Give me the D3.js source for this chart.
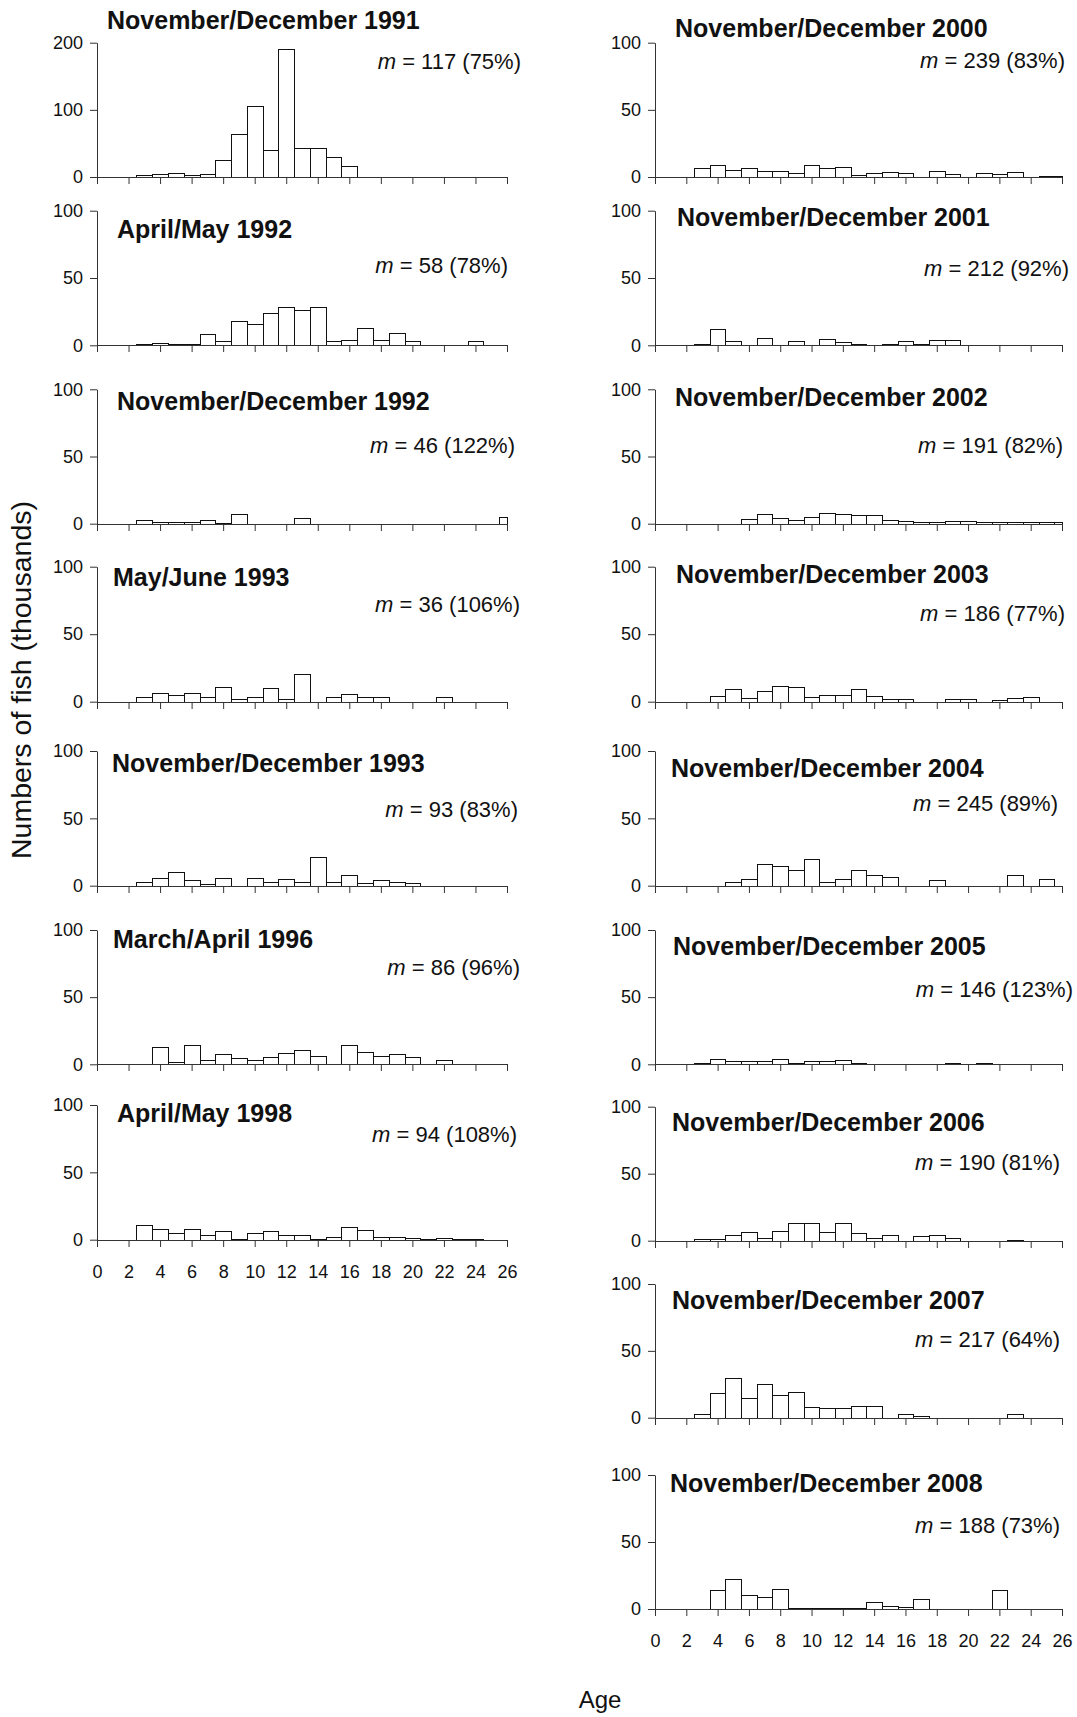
<!DOCTYPE html>
<html>
<head>
<meta charset="utf-8">
<script src="https://cdn.jsdelivr.net/npm/d3@7"></script>
<style>
  body { margin: 0; background: #fff; }
  text { font-family: "Liberation Sans", Arial, Helvetica, sans-serif; fill: #111; }
</style>
</head>
<body>
<svg id="chart" width="1077" height="1717"></svg>
<script>
// Age classes (years) and x-axis tick labels
const ages = d3.range(1, 27);
const ageTicks = d3.range(0, 27, 2);

// Survey names, sample sizes (m) and percentages
const surveyTitles = [
  "November/December 1991", "April/May 1992", "November/December 1992",
  "May/June 1993", "November/December 1993", "March/April 1996", "April/May 1998",
  "November/December 2000", "November/December 2001", "November/December 2002",
  "November/December 2003", "November/December 2004", "November/December 2005",
  "November/December 2006", "November/December 2007", "November/December 2008"
];
const sampleSizes = [117, 58, 46, 36, 93, 86, 94, 239, 212, 191, 186, 245, 146, 190, 217, 188];
const samplePercents = [75, 78, 122, 106, 83, 96, 108, 83, 92, 82, 77, 89, 123, 81, 64, 73];
const yMaxima = [200, 100, 100, 100, 100, 100, 100, 100, 100, 100, 100, 100, 100, 100, 100, 100];

// Numbers of fish (thousands) by age 1..26
const nov1991 = [0,0,3,5,6,3,5,25,63.5,105.7,40,190,42.7,42.7,30,16.4,0,0,0,0,0,0,0,0,0,0];
const apr1992 = [0,0,0.7,1.5,0.7,0.7,8.4,3,17.8,15.8,23.8,28.2,26.2,28.2,3.2,3.7,12.6,3.7,8.9,3,0,0,0,3,0,0];
const nov1992 = [0,0,2.7,1.2,1.5,1.5,2.5,0.5,7.4,0,0,0,4,0,0,0,0,0,0,0,0,0,0,0,0,4.7];
const may1993 = [0,0,3.5,6.7,5.2,6.7,3.5,10.9,1.7,3.2,10.1,1.7,20.5,0,3.2,5.9,3.2,3.2,0,0,0,3.2,0,0,0,0];
const nov1993 = [0,0,2.5,5.9,9.9,4,1.5,5.9,0,5.4,3,5.2,3,21,3,8.2,2.2,4,2.5,2.2,0,0,0,0,0,0];
const mar1996 = [0,0,0,12.7,1.7,14.1,3,7.9,4.5,3.5,5.7,8.7,10.4,6.5,0.5,14.1,9.4,6.5,7.7,5.7,0.5,3,0,0,0,0];
const apr1998 = [0,0,10.6,7.7,5.2,7.7,3.5,6.7,0.5,5,6.7,3.5,3.5,0.5,1.7,9.7,7.2,2.2,2.2,1,0.3,1,0.3,0.2,0,0];
const nov2000 = [0,0,6.9,8.9,5.2,6.7,4.7,4.7,3.2,8.7,6.9,7.7,1.5,3.2,3.7,3.2,0,4.7,2.2,0,3,2.5,4,0,0.7,0.5];
const nov2001 = [0,0,1.2,11.9,3.5,0,5.2,0,3.5,0,4.7,2.2,1,0,1.2,3,0.7,4,4,0,0.5,0,0,0.5,0,0];
const nov2002 = [0,0,0,0,0,3.2,7.2,4.2,2.5,5.2,8.2,7.2,6.2,6.2,3,2.2,1.5,1.5,2.2,2.2,1.2,1.2,1.2,1.2,1.2,1];
const nov2003 = [0,0,0,4.2,9.1,2.5,7.9,11.9,11.1,3.2,4.9,4.9,9.1,4,2.2,2.2,0,0,2.2,2.2,0,1.5,2.5,3.2,0,0];
const nov2004 = [0,0,0,0,3,5.2,15.8,14.9,11.9,20,3,5.2,11.9,8.2,6.7,0,0,4,0,0,0,0,8.2,0,5.2,0];
const nov2005 = [0,0,1.2,4.2,2.2,2.2,2.2,4.2,1.2,2.2,2.2,3.2,1.2,0,0,0,0,0,1.2,0,1.2,0,0,0,0,0];
const nov2006 = [0,0,1.2,1.2,4.5,6.7,2.2,7,13.4,13.4,6.5,12.9,5.5,1.7,4,0,3.2,4,2.2,0,0,0,0.7,0,0,0];
const nov2007 = [0,0,3,18.2,29.9,15,24.9,17,19.5,8.2,7.5,7.5,8.7,8.5,0,3,1.5,0,0,0,0,0,2.5,0,0,0];
const nov2008 = [0,0,0,14.4,22.1,10.4,9.2,14.7,1,1,1,1,0.5,5.2,2,1.7,7.2,0,0,0,0,13.9,0,0,0,0];

const surveyCounts = [nov1991, apr1992, nov1992, may1993, nov1993, mar1996, apr1998,
  nov2000, nov2001, nov2002, nov2003, nov2004, nov2005, nov2006, nov2007, nov2008];

// Panel placement: column, plot top/bottom, title origin, note anchor (right end)
const columnRanges = [[97, 507], [655, 1062]];
const panelLayout = [
  { col: 0, top: 42.7,  bottom: 177,    tx: 107, ty: 29,   nx: 521,  ny: 69 },
  { col: 0, top: 210.7, bottom: 345.3,  tx: 117, ty: 238,  nx: 508,  ny: 273 },
  { col: 0, top: 389.3, bottom: 523.7,  tx: 117, ty: 410,  nx: 515,  ny: 453 },
  { col: 0, top: 566.7, bottom: 701.7,  tx: 113, ty: 586,  nx: 520,  ny: 612 },
  { col: 0, top: 751,   bottom: 885.7,  tx: 112, ty: 772,  nx: 518,  ny: 817 },
  { col: 0, top: 930,   bottom: 1064.3, tx: 113, ty: 948,  nx: 520,  ny: 975 },
  { col: 0, top: 1105,  bottom: 1239.7, tx: 117, ty: 1122, nx: 517,  ny: 1142, labels: true },
  { col: 1, top: 42.7,  bottom: 177,    tx: 675, ty: 37,   nx: 1065, ny: 68 },
  { col: 1, top: 210.7, bottom: 345.3,  tx: 677, ty: 226,  nx: 1069, ny: 276 },
  { col: 1, top: 389.3, bottom: 523.7,  tx: 675, ty: 406,  nx: 1063, ny: 453 },
  { col: 1, top: 566.7, bottom: 701.7,  tx: 676, ty: 583,  nx: 1065, ny: 621 },
  { col: 1, top: 751,   bottom: 885.7,  tx: 671, ty: 777,  nx: 1058, ny: 811 },
  { col: 1, top: 930,   bottom: 1064.3, tx: 673, ty: 955,  nx: 1073, ny: 997 },
  { col: 1, top: 1106.7,bottom: 1240.7, tx: 672, ty: 1131, nx: 1060, ny: 1170 },
  { col: 1, top: 1284,  bottom: 1417.7, tx: 672, ty: 1309, nx: 1060, ny: 1347 },
  { col: 1, top: 1475,  bottom: 1609,   tx: 670, ty: 1492, nx: 1060, ny: 1533, labels: true }
];

const svg = d3.select("#chart");
const axisColor = "#333";

surveyTitles.forEach((title, i) => {
  const L = panelLayout[i];
  const values = surveyCounts[i];
  const x = d3.scaleLinear().domain([0, 26]).range(columnRanges[L.col]);
  const y = d3.scaleLinear().domain([0, yMaxima[i]]).range([L.bottom, L.top]);
  const g = svg.append("g");

  // histogram bars, one per age class, clipped to the 0–26 axis
  const bars = ages.map((a, k) => ({ age: a, v: values[k] })).filter(d => d.v > 0);
  g.selectAll("rect.bar").data(bars).join("rect")
    .attr("class", "bar")
    .attr("x", d => Math.round(x(Math.max(0, d.age - 0.5))) + 0.5)
    .attr("width", d => Math.round(x(Math.min(26, d.age + 0.5))) - Math.round(x(Math.max(0, d.age - 0.5))))
    .attr("y", d => Math.round(y(d.v)) + 0.5)
    .attr("height", d => Math.max(0, Math.round(y(0)) - Math.round(y(d.v))))
    .attr("fill", "#fff")
    .attr("stroke", "#111")
    .attr("stroke-width", 1);

  // y axis
  const yAxis = d3.axisLeft(y)
    .tickValues([0, yMaxima[i] / 2, yMaxima[i]])
    .tickSize(7).tickSizeOuter(0).tickPadding(7);
  const gy = g.append("g")
    .attr("transform", `translate(${Math.round(x(0))},0)`)
    .call(yAxis);
  gy.selectAll("text").attr("font-size", 18).attr("fill", "#111")
    .attr("font-family", "'Liberation Sans', Arial, sans-serif");

  // x axis
  const xAxis = d3.axisBottom(x)
    .tickValues(ageTicks)
    .tickSize(7).tickSizeOuter(0).tickPadding(18)
    .tickFormat(L.labels ? d3.format("d") : () => "");
  const gx = g.append("g")
    .attr("transform", `translate(0,${Math.round(y(0))})`)
    .call(xAxis);
  gx.selectAll("text").attr("font-size", 18).attr("fill", "#111")
    .attr("font-family", "'Liberation Sans', Arial, sans-serif");

  [gx, gy].forEach(a => {
    a.select(".domain").attr("stroke", axisColor);
    a.selectAll(".tick line").attr("stroke", axisColor);
  });

  // survey title
  g.append("text")
    .attr("x", L.tx).attr("y", L.ty)
    .attr("font-size", 25).attr("font-weight", "bold")
    .text(title);

  // sample size note
  const note = g.append("text")
    .attr("x", L.nx).attr("y", L.ny)
    .attr("text-anchor", "end")
    .attr("font-size", 22);
  note.append("tspan").attr("font-style", "italic").text("m");
  note.append("tspan").text(` = ${sampleSizes[i]} (${samplePercents[i]}%)`);
});

// shared axis titles
svg.append("text")
  .attr("transform", "translate(31,680) rotate(-90)")
  .attr("text-anchor", "middle")
  .attr("font-size", 28.5)
  .text("Numbers of fish (thousands)");

svg.append("text")
  .attr("x", 600).attr("y", 1708)
  .attr("text-anchor", "middle")
  .attr("font-size", 24)
  .text("Age");
</script>
</body>
</html>
